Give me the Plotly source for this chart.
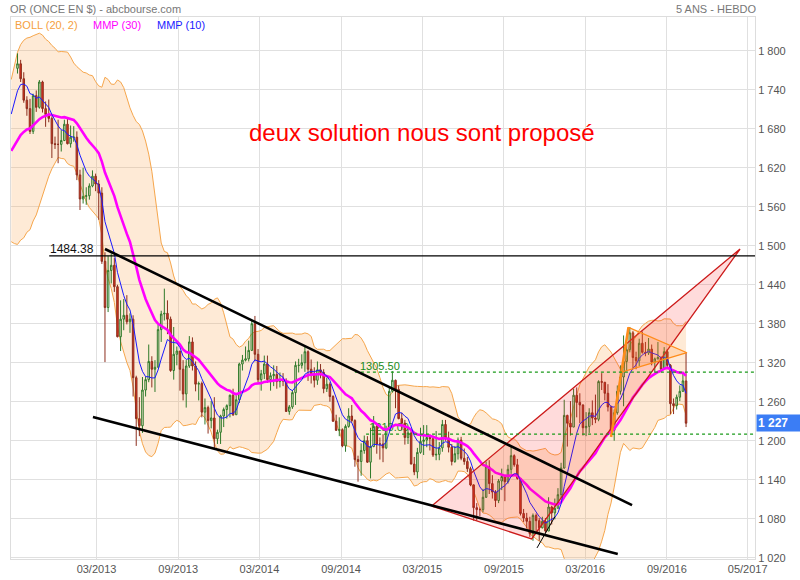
import numpy as np
import pandas as pd
import plotly.graph_objects as go

# ---------------- data (weekly gold, USD/oz) ----------------
first_week = "2012-10-05"          # week-ending Friday of first candle
warmup_last_week = "2012-09-28"    # closes before the window, only used by indicators
warmup_closes = [1710, 1711, 1656, 1662, 1668, 1631, 1659, 1642, 1663, 1645, 1584, 1592, 1573,
                 1622, 1591, 1626, 1572, 1604, 1579, 1590, 1584, 1618, 1604, 1620, 1615, 1671,
                 1692, 1740, 1771, 1773, 1773]

opens_2012 = [1773, 1780, 1757, 1724, 1711, 1676, 1731, 1713, 1752, 1711, 1702, 1696, 1657]
highs_2012 = [1796, 1786, 1767, 1730, 1726, 1734, 1739, 1755, 1754, 1722, 1725, 1699, 1668]
lows_2012 = [1765, 1752, 1720, 1700, 1672, 1672, 1706, 1711, 1705, 1683, 1690, 1635, 1649]
closes_2012 = [1780, 1757, 1724, 1711, 1676, 1731, 1713, 1752, 1711, 1702, 1696, 1657, 1656]

opens_2013 = [1656, 1656, 1662, 1687, 1657, 1667, 1667, 1609, 1572, 1576, 1577, 1592, 1607, 1595,
              1581, 1476, 1405, 1462, 1470, 1437, 1360, 1387, 1393, 1383, 1387, 1297, 1234, 1223,
              1278, 1294, 1322, 1310, 1313, 1371, 1395, 1396, 1387, 1308, 1333, 1338, 1310, 1272,
              1315, 1352, 1315, 1287, 1288, 1244, 1251, 1231, 1235, 1203]
highs_2013 = [1694, 1678, 1694, 1697, 1685, 1684, 1676, 1617, 1620, 1590, 1596, 1616, 1611, 1601,
              1590, 1490, 1484, 1488, 1481, 1440, 1416, 1418, 1424, 1396, 1393, 1300, 1267, 1298,
              1299, 1348, 1330, 1324, 1378, 1400, 1434, 1416, 1391, 1375, 1345, 1338, 1324, 1324,
              1361, 1359, 1322, 1291, 1291, 1265, 1254, 1261, 1267, 1217]
lows_2013 = [1627, 1645, 1661, 1656, 1651, 1660, 1601, 1555, 1565, 1563, 1571, 1590, 1584, 1540,
             1472, 1321, 1398, 1442, 1429, 1359, 1338, 1370, 1379, 1366, 1268, 1192, 1207, 1212,
             1268, 1290, 1282, 1275, 1313, 1352, 1385, 1364, 1306, 1294, 1316, 1277, 1262, 1251,
             1312, 1308, 1276, 1262, 1236, 1225, 1211, 1219, 1187, 1195]
closes_2013 = [1656, 1662, 1687, 1657, 1667, 1667, 1609, 1572, 1576, 1577, 1592, 1607, 1595, 1581,
               1476, 1405, 1462, 1470, 1437, 1360, 1387, 1393, 1383, 1387, 1297, 1234, 1223, 1278,
               1294, 1322, 1310, 1313, 1371, 1395, 1396, 1387, 1308, 1333, 1338, 1310, 1272, 1315,
               1352, 1315, 1287, 1288, 1244, 1251, 1231, 1235, 1203, 1213]

opens_2014 = [1213, 1238, 1248, 1254, 1270, 1240, 1263, 1318, 1324, 1326, 1339, 1380, 1333, 1294,
              1303, 1318, 1294, 1300, 1302, 1291, 1293, 1292, 1245, 1252, 1274, 1316, 1316, 1320,
              1337, 1310, 1303, 1293, 1309, 1305, 1280, 1287, 1268, 1230, 1216, 1217, 1192, 1222,
              1238, 1231, 1171, 1168, 1185, 1200, 1167, 1191, 1222, 1195]
highs_2014 = [1240, 1251, 1256, 1271, 1280, 1270, 1320, 1332, 1345, 1354, 1385, 1392, 1341, 1309,
              1331, 1331, 1305, 1316, 1315, 1305, 1304, 1296, 1255, 1278, 1322, 1326, 1333, 1345,
              1339, 1325, 1313, 1322, 1318, 1310, 1297, 1290, 1270, 1240, 1236, 1219, 1225, 1250,
              1255, 1233, 1177, 1196, 1208, 1207, 1220, 1238, 1225, 1205]
lows_2014 = [1195, 1221, 1234, 1236, 1238, 1240, 1258, 1308, 1322, 1322, 1338, 1322, 1290, 1277,
             1295, 1289, 1277, 1284, 1280, 1282, 1284, 1250, 1240, 1249, 1255, 1305, 1311, 1306,
             1292, 1288, 1282, 1286, 1296, 1273, 1275, 1260, 1229, 1215, 1207, 1190, 1183, 1220,
             1228, 1160, 1137, 1146, 1180, 1166, 1142, 1190, 1180, 1171]
closes_2014 = [1238, 1248, 1254, 1270, 1240, 1263, 1318, 1324, 1326, 1339, 1380, 1333, 1294, 1303,
               1318, 1294, 1300, 1302, 1291, 1293, 1292, 1245, 1252, 1274, 1316, 1316, 1320, 1337,
               1310, 1303, 1293, 1309, 1305, 1280, 1287, 1268, 1230, 1216, 1217, 1192, 1222, 1238,
               1231, 1171, 1168, 1185, 1200, 1167, 1191, 1222, 1195, 1195]

opens_2015 = [1195, 1189, 1217, 1276, 1293, 1279, 1234, 1227, 1205, 1212, 1164, 1152, 1182, 1199,
              1201, 1205, 1203, 1178, 1179, 1189, 1225, 1204, 1190, 1168, 1180, 1201, 1173, 1168,
              1157, 1132, 1097, 1094, 1094, 1113, 1160, 1134, 1121, 1108, 1138, 1145, 1137, 1156,
              1177, 1163, 1142, 1088, 1081, 1076, 1057, 1085, 1077, 1066]
highs_2015 = [1210, 1223, 1282, 1307, 1294, 1285, 1243, 1232, 1219, 1218, 1175, 1189, 1220, 1224,
              1224, 1210, 1208, 1215, 1198, 1232, 1232, 1214, 1195, 1192, 1205, 1206, 1188, 1175,
              1160, 1133, 1104, 1097, 1126, 1168, 1170, 1147, 1124, 1141, 1157, 1145, 1163, 1191,
              1179, 1172, 1142, 1095, 1089, 1083, 1088, 1088, 1081, 1083]
lows_2015 = [1167, 1187, 1215, 1274, 1250, 1233, 1216, 1194, 1195, 1164, 1147, 1142, 1180, 1178,
             1190, 1185, 1175, 1170, 1170, 1183, 1200, 1182, 1162, 1166, 1171, 1170, 1163, 1152,
             1130, 1077, 1077, 1084, 1090, 1112, 1118, 1111, 1098, 1104, 1124, 1107, 1134, 1149,
             1160, 1140, 1085, 1075, 1065, 1052, 1046, 1061, 1046, 1065]
closes_2015 = [1189, 1217, 1276, 1293, 1279, 1234, 1227, 1205, 1212, 1164, 1152, 1182, 1199, 1201,
               1205, 1203, 1178, 1179, 1189, 1225, 1204, 1190, 1168, 1180, 1201, 1173, 1168, 1157,
               1132, 1097, 1094, 1094, 1113, 1160, 1134, 1121, 1108, 1138, 1145, 1137, 1156, 1177,
               1163, 1142, 1088, 1081, 1076, 1057, 1085, 1077, 1066, 1076]

opens_2016 = [1076, 1061, 1098, 1089, 1096, 1117, 1158, 1239, 1227, 1221, 1270, 1259, 1255, 1220,
              1222, 1243, 1235, 1233, 1291, 1290, 1273, 1252, 1216, 1243, 1276, 1298, 1322, 1340,
              1366, 1328, 1323, 1350, 1336, 1335, 1341, 1321, 1326, 1328, 1310, 1337, 1316, 1257,
              1254, 1267, 1276, 1292]
highs_2016 = [1081, 1113, 1100, 1111, 1127, 1166, 1263, 1240, 1261, 1280, 1282, 1273, 1256, 1244,
              1250, 1262, 1271, 1293, 1304, 1290, 1287, 1254, 1248, 1285, 1316, 1362, 1350, 1375,
              1369, 1337, 1357, 1368, 1352, 1358, 1348, 1328, 1352, 1330, 1344, 1341, 1318, 1265,
              1271, 1285, 1303, 1335]
lows_2016 = [1058, 1061, 1071, 1079, 1096, 1112, 1157, 1191, 1208, 1221, 1236, 1227, 1208, 1207,
             1212, 1224, 1227, 1230, 1278, 1262, 1245, 1212, 1200, 1240, 1271, 1253, 1307, 1336,
             1310, 1310, 1315, 1334, 1330, 1332, 1316, 1302, 1325, 1308, 1309, 1310, 1241, 1241,
             1248, 1261, 1275, 1221]
closes_2016 = [1061, 1098, 1089, 1096, 1117, 1158, 1239, 1227, 1221, 1270, 1259, 1255, 1220, 1222,
               1243, 1235, 1233, 1291, 1290, 1273, 1252, 1216, 1243, 1276, 1298, 1322, 1340, 1366,
               1328, 1323, 1350, 1336, 1335, 1341, 1321, 1326, 1328, 1310, 1337, 1316, 1257, 1254,
               1267, 1276, 1292, 1227]

opens = opens_2012 + opens_2013 + opens_2014 + opens_2015 + opens_2016
highs = highs_2012 + highs_2013 + highs_2014 + highs_2015 + highs_2016
lows = lows_2012 + lows_2013 + lows_2014 + lows_2015 + lows_2016
closes = closes_2012 + closes_2013 + closes_2014 + closes_2015 + closes_2016
last_price_label = "1 227"

# drawn annotations (date, price)
resist_line_dates = ["2012-12-15", "2017-04-14 12:00"]
resist_line_prices = [1484.38, 1484.38]
green_hi_dates = ["2014-10-31", "2017-04-14 12:00"]
green_hi_prices = [1305.50, 1305.50]
green_lo_dates = ["2014-11-25", "2017-04-14 12:00"]
green_lo_prices = [1210.09, 1210.09]
upper_trend_dates = ["2013-04-19", "2016-07-13"]
upper_trend_prices = [1495, 1101]
lower_trend_dates = ["2013-03-23", "2016-06-11"]
lower_trend_prices = [1236.5, 1025.7]
wedge_dates = ["2015-04-21", "2017-03-12", "2015-12-01", "2015-04-21"]
wedge_prices = [1099.5, 1495, 1048.8, 1099.5]
thin_line_dates = ["2015-12-13", "2016-01-22"]
thin_line_prices = [1035, 1083]
pennant_dates = ["2016-07-05", "2016-11-13", "2016-06-20", "2016-07-05"]
pennant_prices = [1374.5, 1335.4, 1305.7, 1374.5]
pole_dates = ["2016-05-27", "2016-07-05"]
pole_prices = [1205.7, 1374.5]

y_ticks = [1020, 1080, 1140, 1200, 1260, 1320, 1380, 1440, 1500, 1560, 1620, 1680, 1740, 1800]
y_tick_text = ["1 020", "1 080", "1 140", "1 200", "1 260", "1 320", "1 380", "1 440", "1 500",
               "1 560", "1 620", "1 680", "1 740", "1 800"]
x_tick_dates = ["2013-03-31", "2013-09-30", "2014-03-31", "2014-09-30", "2015-03-31",
                "2015-09-30", "2016-03-30", "2016-09-29", "2017-03-29"]
x_tick_text = ["03/2013", "09/2013", "03/2014", "09/2014", "03/2015", "09/2015", "03/2016",
               "09/2016", "05/2017"]

# ---------------- indicators ----------------
dates = pd.date_range(first_week, periods=len(closes), freq="W-FRI")
warm_dates = pd.date_range(end=warmup_last_week, periods=len(warmup_closes), freq="W-FRI")
all_close = pd.Series(warmup_closes + closes, index=warm_dates.append(dates), dtype=float)


def wma(s, n):
    w = np.arange(1, n + 1, dtype=float)
    return s.rolling(n).apply(lambda a: np.dot(a, w) / w.sum(), raw=True)


mmp30 = wma(all_close, 30)
mmp10 = wma(all_close, 10)
sma20 = all_close.rolling(20).mean()
sd20 = all_close.rolling(20).std(ddof=0)
boll_up = sma20 + 2 * sd20
boll_lo = sma20 - 2 * sd20
vis = all_close.index >= pd.Timestamp("2012-09-21")
ix = all_close.index[vis]

FONT = "Arial, Liberation Sans, Helvetica, sans-serif"
ORANGE = "#f6a64c"
X_RANGE = ["2012-09-20 10:00", "2017-04-14 12:00"]
Y_RANGE = [1018, 1852]
GREEN_TXT = "#1a8a1a"

fig = go.Figure()
# --- base layer (x, y): Bollinger band + label hidden behind candles
fig.add_trace(go.Scatter(x=ix, y=boll_lo[vis], mode="lines",
                         line=dict(color=ORANGE, width=1), hoverinfo="skip"))
fig.add_trace(go.Scatter(x=ix, y=boll_up[vis], mode="lines", fill="tonexty",
                         fillcolor="rgba(250,160,70,0.22)",
                         line=dict(color=ORANGE, width=1), hoverinfo="skip"))
fig.add_trace(go.Scatter(x=["2014-12-02"], y=[1210.09], mode="text", text=["1210.09"],
                         textposition="top right", hoverinfo="skip",
                         textfont=dict(size=11, color=GREEN_TXT, family=FONT)))

# --- overlay layer (x2, y2): candles, averages, drawings
fig.add_trace(go.Candlestick(
    x=dates, open=opens, high=highs, low=lows, close=closes,
    increasing=dict(line=dict(color="#2f7a2a", width=1), fillcolor="rgba(0,0,0,0)"),
    decreasing=dict(line=dict(color="#8c2e1e", width=1), fillcolor="#e6311c"),
    whiskerwidth=0, xaxis="x2", yaxis="y2"))
fig.add_trace(go.Scatter(x=ix, y=mmp30[vis], mode="lines", xaxis="x2", yaxis="y2",
                         line=dict(color="#ff00ff", width=2.6), hoverinfo="skip"))
fig.add_trace(go.Scatter(x=ix, y=mmp10[vis], mode="lines", xaxis="x2", yaxis="y2",
                         line=dict(color="#1a1aff", width=1), hoverinfo="skip"))

fig.add_trace(go.Scatter(x=wedge_dates, y=wedge_prices, mode="lines", fill="toself",
                         fillcolor="rgba(255,30,30,0.16)", xaxis="x2", yaxis="y2",
                         line=dict(color="#cc1a1a", width=1.3), hoverinfo="skip"))
fig.add_trace(go.Scatter(x=pennant_dates, y=pennant_prices, mode="lines", fill="toself",
                         fillcolor="rgba(255,140,40,0.18)", xaxis="x2", yaxis="y2",
                         line=dict(color="#ff8c1a", width=1.3), hoverinfo="skip"))
fig.add_trace(go.Scatter(x=pole_dates, y=pole_prices, mode="lines", xaxis="x2", yaxis="y2",
                         line=dict(color="#ff8c1a", width=2.5), hoverinfo="skip"))
for xs, ys, col, w, dash in [
    (resist_line_dates, resist_line_prices, "#000000", 1.2, "solid"),
    (green_hi_dates, green_hi_prices, "#1a9a1a", 1.2, "dot"),
    (green_lo_dates, green_lo_prices, "#1a9a1a", 1.2, "dot"),
    (upper_trend_dates, upper_trend_prices, "#000000", 2.6, "solid"),
    (lower_trend_dates, lower_trend_prices, "#000000", 2.6, "solid"),
    (thin_line_dates, thin_line_prices, "#000000", 1, "solid"),
]:
    fig.add_trace(go.Scatter(x=xs, y=ys, mode="lines", xaxis="x2", yaxis="y2",
                             line=dict(color=col, width=w, dash=dash), hoverinfo="skip"))

annotations = [
    dict(text="OR (ONCE EN $) - abcbourse.com", xref="paper", yref="paper", x=0, y=1,
         xanchor="left", yanchor="bottom", xshift=-3, yshift=0, showarrow=False,
         font=dict(size=11, color="#777777", family=FONT)),
    dict(text="5 ANS - HEBDO", xref="paper", yref="paper", x=1, y=1,
         xanchor="right", yanchor="bottom", xshift=4, yshift=0, showarrow=False,
         font=dict(size=11, color="#777777", family=FONT)),
    dict(text="BOLL (20, 2)", xref="paper", yref="paper", x=0.0054, y=1, xanchor="left",
         yanchor="top", xshift=-2, yshift=0, showarrow=False,
         font=dict(size=11, color="#f5a040", family=FONT)),
    dict(text="MMP (30)", xref="paper", yref="paper", x=0.1102, y=1, xanchor="left",
         yanchor="top", xshift=-2, yshift=0, showarrow=False,
         font=dict(size=11, color="#ff00ff", family=FONT)),
    dict(text="MMP (10)", xref="paper", yref="paper", x=0.1962, y=1, xanchor="left",
         yanchor="top", xshift=-2, yshift=0, showarrow=False,
         font=dict(size=11, color="#1a1aff", family=FONT)),
    dict(text="deux solution nous sont proposé", xref="paper", yref="paper", x=0.5524,
         y=0.786, xanchor="center", yanchor="middle", showarrow=False,
         font=dict(size=24, color="#ff0000", family=FONT)),
    dict(text="1484.38", x="2013-03-29", y=1484.38, xanchor="right", yanchor="bottom",
         showarrow=False, yshift=-2, font=dict(size=12, color="#111111", family=FONT)),
    dict(text="1305.50", x="2014-11-06", y=1305.5, xanchor="left", yanchor="bottom",
         showarrow=False, yshift=-2, font=dict(size=11, color=GREEN_TXT, family=FONT)),
    dict(text="<b>" + last_price_label + "</b>", xref="paper", yref="y", x=1, y=closes[-1],
         xanchor="left", yanchor="middle", xshift=1, showarrow=False, bgcolor="#3b7df5",
         width=44, align="left", borderpad=1,
         font=dict(size=12, color="#ffffff", family=FONT)),
]

fig.update_layout(
    width=800, height=580,
    margin=dict(l=11, r=45, t=17, b=21, autoexpand=False),
    paper_bgcolor="white", plot_bgcolor="white",
    showlegend=False,
    font=dict(family=FONT, size=11, color="#555555"),
    annotations=annotations,
    xaxis=dict(type="date", range=X_RANGE, automargin=False,
               tickvals=x_tick_dates, ticktext=x_tick_text,
               showgrid=True, gridcolor="#e0e0e0", gridwidth=1, zeroline=False,
               showline=True, linecolor="#dddddd", mirror=True, ticks="",
               rangeslider=dict(visible=False),
               tickfont=dict(size=11, color="#555555", family=FONT)),
    yaxis=dict(range=Y_RANGE, side="right", tickvals=y_ticks, ticktext=y_tick_text,
               automargin=False,
               showgrid=True, gridcolor="#e0e0e0", gridwidth=1, zeroline=False,
               showline=True, linecolor="#dddddd", mirror=True, ticks="",
               tickfont=dict(size=11, color="#555555", family=FONT)),
    xaxis2=dict(type="date", range=X_RANGE, overlaying="x", visible=False,
                automargin=False, rangeslider=dict(visible=False)),
    yaxis2=dict(range=Y_RANGE, overlaying="y", side="right", visible=False,
                automargin=False),
)

# remove the browser's default 8px page margin so the 800x580 figure fills the window
fig.write_html("out.html", config={"displayModeBar": False},
               post_script="document.body.style.margin='0px';")
